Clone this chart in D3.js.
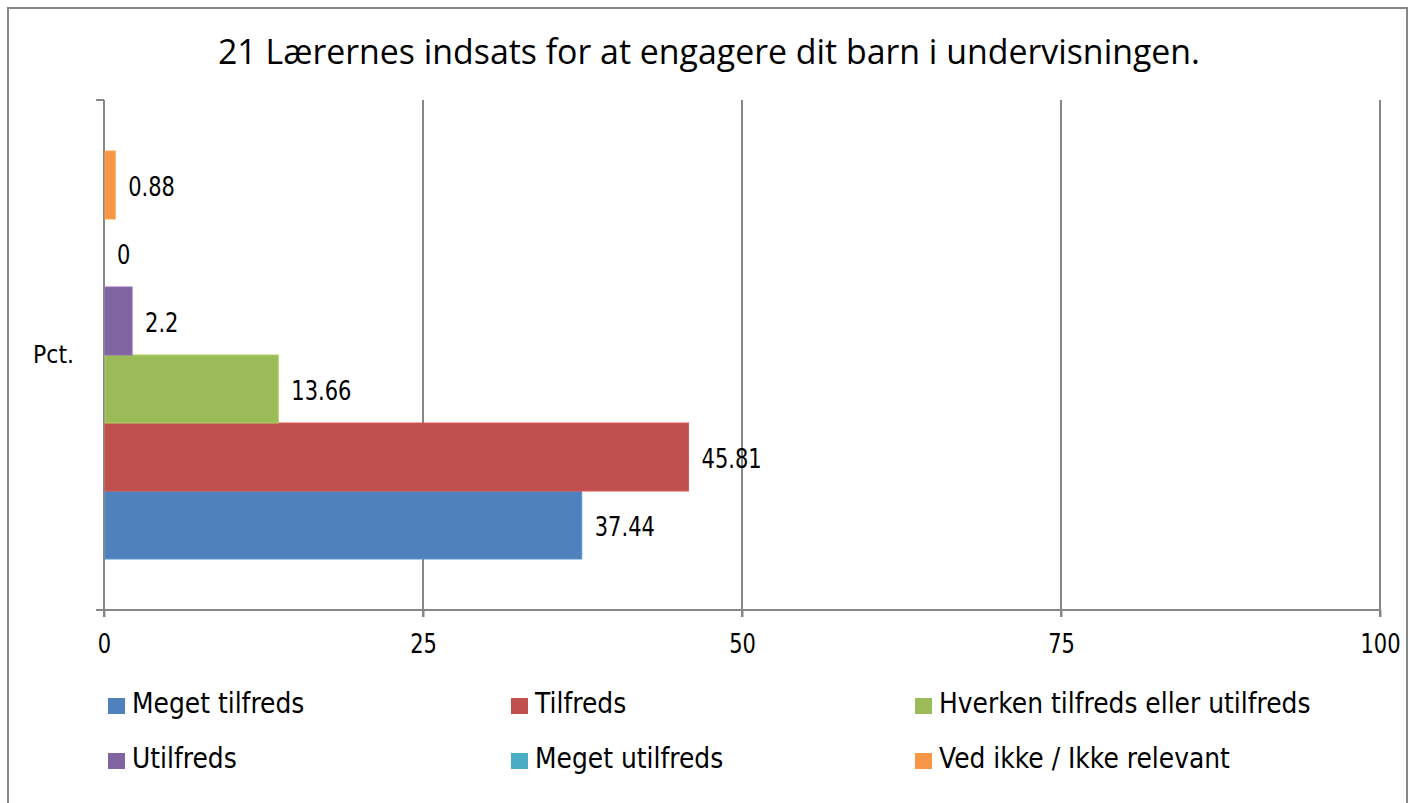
<!DOCTYPE html>
<html>
<head>
<meta charset="utf-8">
<script src="https://d3js.org/d3.v7.min.js"></script>
<style>
  body { margin: 0; background: #fff; }
  svg { display: block; }
</style>
</head>
<body>
<svg id="chart"></svg>
<script>
// chart data
const title = "21 Lærernes indsats for at engagere dit barn i undervisningen."
const categories = ["Pct."]
const seriesNames = ["Meget tilfreds", "Tilfreds", "Hverken tilfreds eller utilfreds",
                     "Utilfreds", "Meget utilfreds", "Ved ikke / Ikke relevant"]
const seriesValues = [37.44, 45.81, 13.66, 2.2, 0, 0.88]
const seriesColors = ["#4F81BD", "#C0504D", "#9BBB59", "#8064A2", "#4BACC6", "#F79646"]
const xTicks = [0, 25, 50, 75, 100]

let width = 1415,
    height = 803

// the original text is a bit taller than it is wide, stretch it a little
const stretchNum = 1.27,
      stretchLegend = 1.1

let svg = d3.select("#chart")
    .attr("width", width)
    .attr("height", height)

// outer frame
svg.append("rect")
    .attr("x", 8).attr("y", 8)
    .attr("width", 1399).attr("height", 820)
    .attr("fill", "white")
    .attr("stroke", "#878787")
    .attr("stroke-width", 2)

svg.append("text")
    .attr("x", 709).attr("y", 64)
    .attr("text-anchor", "middle")
    .style("font-family", "'Open Sans', sans-serif")
    .style("font-size", "34px")
    .attr("textLength", 982)
    .attr("lengthAdjust", "spacingAndGlyphs")
    .attr("fill", "#000")
    .text(title)

const plot = { left: 104, right: 1380, top: 100, bottom: 610 }

let x = d3.scaleLinear()
    .domain([0, 100])
    .range([plot.left, plot.right])

let yCat = d3.scaleBand()
    .domain(categories)
    .range([plot.top, plot.bottom])
    .paddingInner(0)
    .paddingOuter(0.125)

// first series at the bottom, like Excel does
let ySer = d3.scaleBand()
    .domain(seriesNames)
    .range([yCat.bandwidth(), 0])

const grey = "#878787"

// vertical gridlines
svg.append("g").selectAll("line")
    .data(xTicks.slice(1))
    .enter().append("line")
    .attr("x1", d => x(d)).attr("x2", d => x(d))
    .attr("y1", plot.top).attr("y2", plot.bottom + 7)
    .attr("stroke", grey).attr("stroke-width", 2)

// x axis
let xAxis = svg.append("g")
    .attr("transform", "translate(0," + plot.bottom + ")")
    .call(d3.axisBottom(x).tickValues(xTicks).tickSize(7))
xAxis.select(".domain").remove()
xAxis.append("line")
    .attr("x1", plot.left - 8).attr("x2", plot.right)
    .attr("stroke", grey).attr("stroke-width", 2)
xAxis.selectAll(".tick line").attr("stroke", grey).attr("stroke-width", 2)
xAxis.selectAll(".tick text")
    .attr("y", 0).attr("dy", 0)
    .attr("transform", "translate(0,43) scale(1," + stretchNum + ")")
    .attr("fill", "#000")
    .style("font-family", "'DejaVu Sans', sans-serif")
    .style("font-size", "21px")

// y axis line + boundary ticks
svg.append("line")
    .attr("x1", plot.left).attr("x2", plot.left)
    .attr("y1", plot.top).attr("y2", plot.bottom + 7)
    .attr("stroke", grey).attr("stroke-width", 2)
svg.append("line")
    .attr("x1", plot.left - 8).attr("x2", plot.left)
    .attr("y1", plot.top).attr("y2", plot.top)
    .attr("stroke", grey).attr("stroke-width", 2)

svg.append("g").selectAll("text")
    .data(categories)
    .enter().append("text")
    .attr("transform", d => "translate(74," + (yCat(d) + yCat.bandwidth() / 2 + 8) + ") scale(1,1.12)")
    .attr("text-anchor", "end")
    .style("font-family", "'DejaVu Sans', sans-serif")
    .style("font-size", "22px")
    .text(d => d)

// bars
let bars = svg.append("g")
    .attr("transform", "translate(0," + yCat(categories[0]) + ")")

bars.selectAll("rect")
    .data(seriesNames)
    .enter().append("rect")
    .attr("x", x(0) + 1)
    .attr("y", d => ySer(d))
    .attr("width", (d, i) => Math.max(0, x(seriesValues[i]) - x(0) - 1))
    .attr("height", ySer.bandwidth())
    .attr("fill", (d, i) => seriesColors[i])
    .attr("stroke", (d, i) => seriesValues[i] > 0 ? d3.color(seriesColors[i]).brighter(0.3) : "none")
    .attr("stroke-width", 1)

bars.selectAll("text")
    .data(seriesNames)
    .enter().append("text")
    .attr("transform", (d, i) => "translate(" + (x(seriesValues[i]) + 13) + "," +
        (ySer(d) + ySer.bandwidth() / 2 + 10.5) + ") scale(1," + stretchNum + ")")
    .style("font-family", "'DejaVu Sans', sans-serif")
    .style("font-size", "21px")
    .attr("fill", "#000")
    .text((d, i) => seriesValues[i])

// legend, three columns
const legendCols = [108, 511, 915],
      legendRows = [713, 768]

let legend = svg.append("g").selectAll("g")
    .data(seriesNames)
    .enter().append("g")
    .attr("transform", (d, i) => "translate(" + legendCols[i % 3] + "," + legendRows[Math.floor(i / 3)] + ")")

legend.append("rect")
    .attr("x", 0).attr("y", -15)
    .attr("width", 17).attr("height", 16)
    .attr("fill", (d, i) => seriesColors[i])

legend.append("text")
    .attr("transform", "translate(24,0) scale(1," + stretchLegend + ")")
    .style("font-family", "'DejaVu Sans', sans-serif")
    .style("font-size", "25px")
    .attr("fill", "#000")
    .text(d => d)
</script>
</body>
</html>
